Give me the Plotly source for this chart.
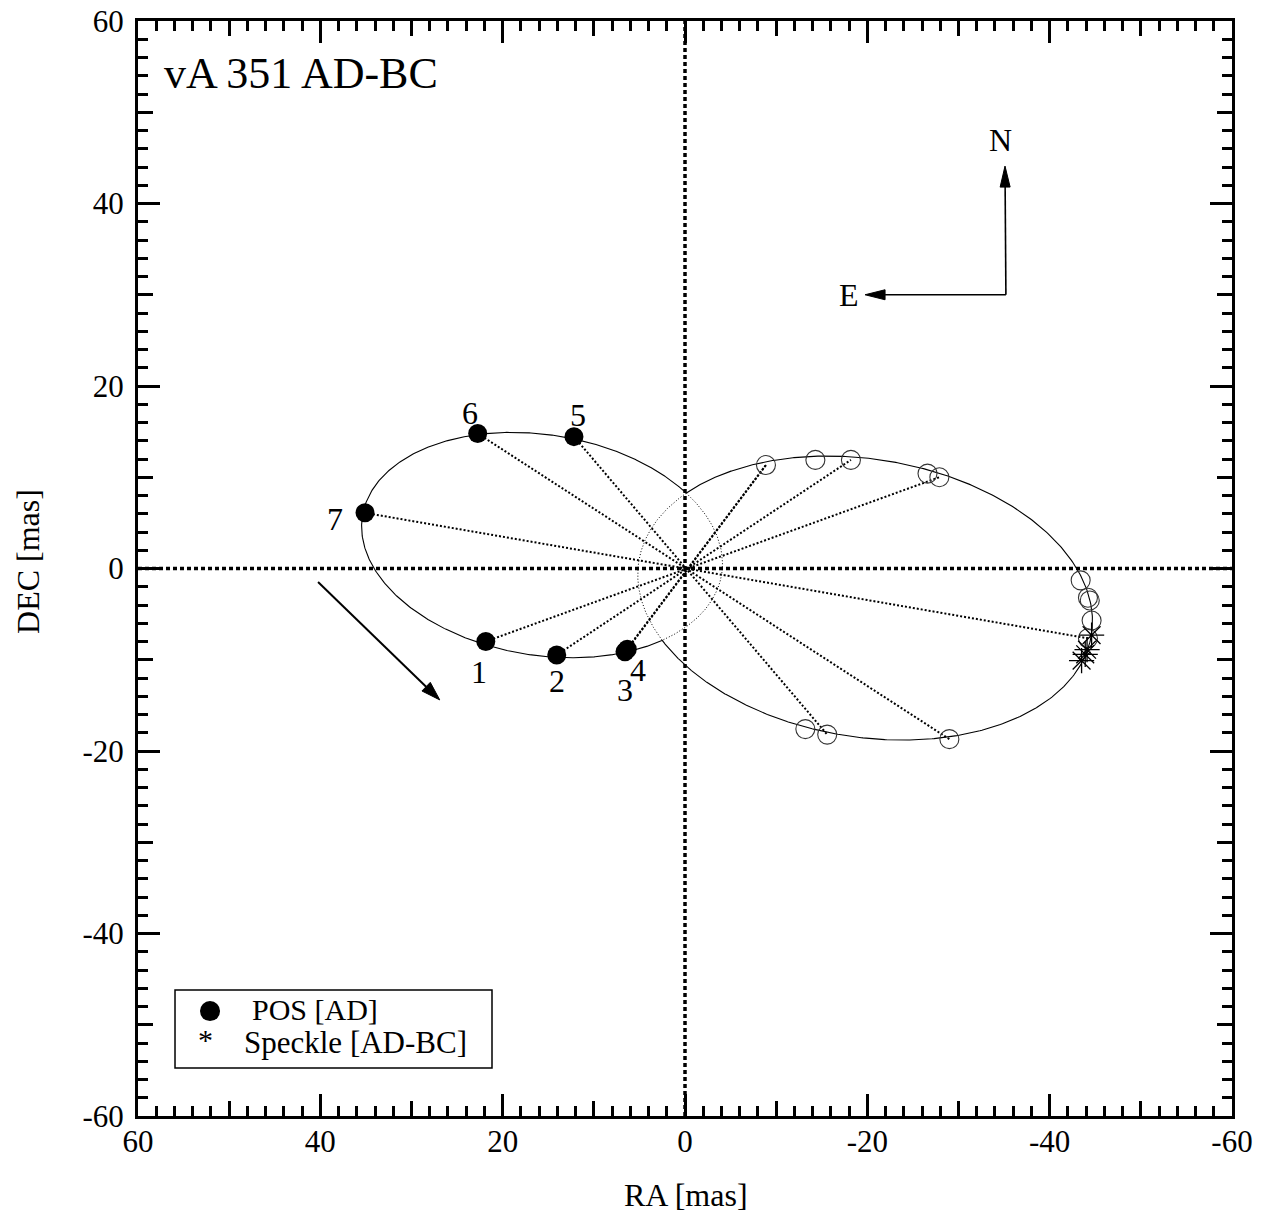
import numpy as np
import plotly.graph_objects as go

# ---- measurements -------------------------------------------------------
# POS [AD] relative positions (RA, DEC in mas), epochs 1..7
ad_ra = [21.85, 14.07, 6.58, 6.33, 12.18, 22.74, 35.10]
ad_dec = [-8.00, -9.48, -9.12, -8.85, 14.45, 14.80, 6.10]
ad_labels = ["1", "2", "3", "4", "5", "6", "7"]

# BC positions (open circles)
bc_ra = [-8.88, -14.3, -18.2, -26.6, -27.9, -13.2, -15.6, -29.0,
         -43.4, -44.2, -44.4, -44.6, -44.2]
bc_dec = [11.34, 11.9, 11.9, 10.4, 10.0, -17.6, -18.2, -18.7,
          -1.3, -3.2, -3.5, -5.7, -7.65]
# BC partner of each AD epoch (index into the BC lists)
bc_partner = [4, 2, 0, 0, 6, 7, 12]

# Speckle [AD-BC]
sp_ra = [-44.6, -44.1, -43.9, -43.5]
sp_dec = [-7.3, -8.9, -9.4, -10.1]

# orbit of AD about the centre of mass (focus at origin)
AD_A = 19.96        # semi-major axis [mas]
AD_E = 0.796        # eccentricity
AD_OMEGA = 189.3    # direction of periastron [deg, from +RA toward +DEC]
BC_SCALE = -1.26    # BC orbit = mass-ratio-scaled reflection of AD orbit

axis_vals = [60, 40, 20, 0, -20, -40, -60]
axis_text = ["60", "40", "20", "0", "-20", "-40", "-60"]
mid_vals = [50, 30, 10, -10, -30, -50]

FONT = "Liberation Serif"

# figure geometry (used to size arrowheads in screen pixels)
W, H = 1268, 1219
ML, MR, MT, MB = 138, 36, 21, 103
PX_X = (W - ML - MR) / 120.0   # px per mas along RA
PX_Y = (H - MT - MB) / 120.0   # px per mas along DEC


def orbit_xy(a, e, omega, scale, n=1441):
    nu = np.linspace(0.0, 2.0 * np.pi, n)
    r = a * (1 - e ** 2) / (1 + e * np.cos(nu))
    ang = nu + np.radians(omega)
    return scale * r * np.cos(ang), scale * r * np.sin(ang)


def inside(x, y, a, e, omega, scale):
    xs, ys = x / scale, y / scale
    r = np.hypot(xs, ys)
    ang = np.arctan2(ys, xs) - np.radians(omega)
    return r < a * (1 - e ** 2) / (1 + e * np.cos(ang))


def split(x, y, flag):
    """Split a curve into two polylines (flag False / flag True) with gaps."""
    out = {False: ([], []), True: ([], [])}
    prev = None
    for i in range(len(x)):
        f = bool(flag[i])
        if prev is not None and f != prev:
            out[prev][0].append(x[i]); out[prev][1].append(y[i])
            out[prev][0].append(None); out[prev][1].append(None)
        out[f][0].append(x[i]); out[f][1].append(y[i])
        prev = f
    return out


def add_arrow(fig, tail, tip, width, head_len, head_w):
    """Straight arrow with a slender filled head (sizes in screen pixels)."""
    # screen-space direction (RA axis is reversed, screen y points down)
    sx = -(tip[0] - tail[0]) * PX_X
    sy = -(tip[1] - tail[1]) * PX_Y
    n = np.hypot(sx, sy)
    ux, uy = sx / n, sy / n
    px, py = -uy, ux

    def to_data(dx, dy):
        return tip[0] - dx / PX_X, tip[1] - dy / PX_Y

    bx, by = to_data(-ux * head_len, -uy * head_len)
    l = to_data(-ux * head_len + px * head_w / 2, -uy * head_len + py * head_w / 2)
    r = to_data(-ux * head_len - px * head_w / 2, -uy * head_len - py * head_w / 2)
    fig.add_shape(type="line", x0=tail[0], y0=tail[1], x1=bx, y1=by,
                  xref="x", yref="y", line=dict(color="black", width=width))
    fig.add_shape(type="path", xref="x", yref="y",
                  path=f"M{tip[0]},{tip[1]} L{l[0]},{l[1]} L{r[0]},{r[1]} Z",
                  fillcolor="black", line=dict(color="black", width=1))


fig = go.Figure()

# orbits: parts lying inside the companion's orbit are drawn dotted
ax_, ay_ = orbit_xy(AD_A, AD_E, AD_OMEGA, 1.0)
bx_, by_ = orbit_xy(AD_A, AD_E, AD_OMEGA, BC_SCALE)
ad_parts = split(ax_, ay_, inside(ax_, ay_, AD_A, AD_E, AD_OMEGA, BC_SCALE))
bc_parts = split(bx_, by_, inside(bx_, by_, AD_A, AD_E, AD_OMEGA, 1.0))
for parts in (ad_parts, bc_parts):
    fig.add_trace(go.Scatter(x=parts[False][0], y=parts[False][1], mode="lines",
                             line=dict(color="black", width=1.1),
                             hoverinfo="skip", showlegend=False))
    fig.add_trace(go.Scatter(x=parts[True][0], y=parts[True][1], mode="lines",
                             line=dict(color="black", width=1, dash="1px,2px"),
                             hoverinfo="skip", showlegend=False))

# connecting lines AD -> origin -> BC for each epoch
lx, ly = [], []
for i, j in enumerate(bc_partner):
    lx += [ad_ra[i], bc_ra[j], None]
    ly += [ad_dec[i], bc_dec[j], None]
fig.add_trace(go.Scatter(x=lx, y=ly, mode="lines",
                         line=dict(color="black", width=2, dash="2px,2px"),
                         hoverinfo="skip", showlegend=False))

# BC open circles
fig.add_trace(go.Scatter(x=bc_ra, y=bc_dec, mode="markers",
                         marker=dict(symbol="circle-open", size=19, color="#333333",
                                     line=dict(color="#333333", width=1.1)),
                         showlegend=False))
# Speckle asterisks
fig.add_trace(go.Scatter(x=sp_ra, y=sp_dec, mode="markers",
                         marker=dict(symbol="asterisk-open", size=21, color="black",
                                     line=dict(color="black", width=1.3)),
                         showlegend=False))
# POS [AD] filled circles
fig.add_trace(go.Scatter(x=ad_ra, y=ad_dec, mode="markers",
                         marker=dict(symbol="circle", size=19, color="black"),
                         showlegend=False))

# invisible trace carrying the secondary (mid-tick) axes
fig.add_trace(go.Scatter(x=[0], y=[0], xaxis="x2", yaxis="y2", mode="markers",
                         marker=dict(opacity=0), hoverinfo="skip",
                         showlegend=False))

# zero lines
fig.add_shape(type="line", x0=0, x1=0, y0=-60, y1=60, xref="x", yref="y",
              line=dict(color="black", width=3.5, dash="4px,3px"), layer="below")
fig.add_shape(type="line", x0=60, x1=-60, y0=0, y1=0, xref="x", yref="y",
              line=dict(color="black", width=3.5, dash="4px,3px"), layer="below")

# epoch labels (pixel offsets from each point)
label_shift = {"1": (-7, -30), "2": (0, -26), "3": (0, -38), "4": (11, -21),
               "5": (4, 22), "6": (-8, 20), "7": (-30, -6)}
for xv, yv, t in zip(ad_ra, ad_dec, ad_labels):
    dx, dy = label_shift[t]
    fig.add_annotation(x=xv, y=yv, text=t, showarrow=False, xshift=dx, yshift=dy,
                       font=dict(family=FONT, size=32, color="black"))

# direction of motion
add_arrow(fig, (40.25, -1.48), (26.9, -14.4), width=2, head_len=19, head_w=12)

# compass
add_arrow(fig, (-35.2, 30.0), (-35.1, 44.1), width=1.6, head_len=21, head_w=10)
add_arrow(fig, (-35.2, 30.0), (-19.75, 30.0), width=1.6, head_len=20, head_w=10)
fig.add_annotation(x=-34.6, y=47.0, text="N", showarrow=False,
                   font=dict(family=FONT, size=32, color="black"))
fig.add_annotation(x=-18.0, y=30.0, text="E", showarrow=False,
                   font=dict(family=FONT, size=32, color="black"))

# title inside the frame
fig.add_annotation(x=57.4, y=54.2, text="vA 351 AD-BC", showarrow=False,
                   xanchor="left", yanchor="middle",
                   font=dict(family=FONT, size=44, color="black"))

# legend box
fig.add_shape(type="rect", x0=55.94, x1=21.17, y0=-46.19, y1=-54.74,
              xref="x", yref="y", line=dict(color="black", width=1.5))
fig.add_shape(type="circle", x0=53.2, x1=51.0, y0=-47.4, y1=-49.6,
              xref="x", yref="y", fillcolor="black", line=dict(width=0))
fig.add_annotation(x=47.7, y=-48.3, text="POS [AD]", showarrow=False,
                   xanchor="left", font=dict(family=FONT, size=30, color="black"))
fig.add_annotation(x=52.65, y=-51.6, text="*", showarrow=False,
                   font=dict(family=FONT, size=30, color="black"))
fig.add_annotation(x=48.6, y=-51.95, text="Speckle [AD-BC]", showarrow=False,
                   xanchor="left", font=dict(family=FONT, size=31, color="black"))

# axis titles
fig.add_annotation(x=0.501, y=-0.072, xref="paper", yref="paper",
                   xanchor="center", yanchor="middle",
                   text="RA [mas]", showarrow=False,
                   font=dict(family=FONT, size=32, color="black"))
fig.add_annotation(x=-0.1005, y=0.506, xref="paper", yref="paper",
                   xanchor="center", yanchor="middle",
                   text="DEC [mas]", showarrow=False, textangle=-90,
                   font=dict(family=FONT, size=32, color="black"))

common = dict(showgrid=False, zeroline=False, ticks="inside", mirror="ticks",
              tickwidth=3, tickcolor="black", automargin=False)
fig.update_layout(
    width=W, height=H,
    margin=dict(l=ML, r=MR, t=MT, b=MB),
    paper_bgcolor="white", plot_bgcolor="white",
    font=dict(family=FONT, size=31, color="black"),
    xaxis=dict(range=[60, -60], tickvals=axis_vals, ticktext=axis_text,
               ticklen=22, showline=True, linewidth=3, linecolor="black",
               ticklabelstandoff=-4,
               minor=dict(tickmode="linear", tick0=0, dtick=2, ticklen=10,
                          tickwidth=3, ticks="inside", tickcolor="black"),
               **common),
    yaxis=dict(range=[-60, 60], tickvals=axis_vals, ticktext=axis_text,
               ticklen=22, showline=True, linewidth=3, linecolor="black",
               ticklabelstandoff=5,
               minor=dict(tickmode="linear", tick0=0, dtick=2, ticklen=10,
                          tickwidth=3, ticks="inside", tickcolor="black"),
               **common),
    xaxis2=dict(range=[60, -60], overlaying="x", anchor="y", side="bottom",
                tickvals=mid_vals, ticklen=15, showticklabels=False,
                showline=False, **common),
    yaxis2=dict(range=[-60, 60], overlaying="y", anchor="x", side="left",
                tickvals=mid_vals, ticklen=15, showticklabels=False,
                showline=False, **common),
)

fig.write_html("out.html")
